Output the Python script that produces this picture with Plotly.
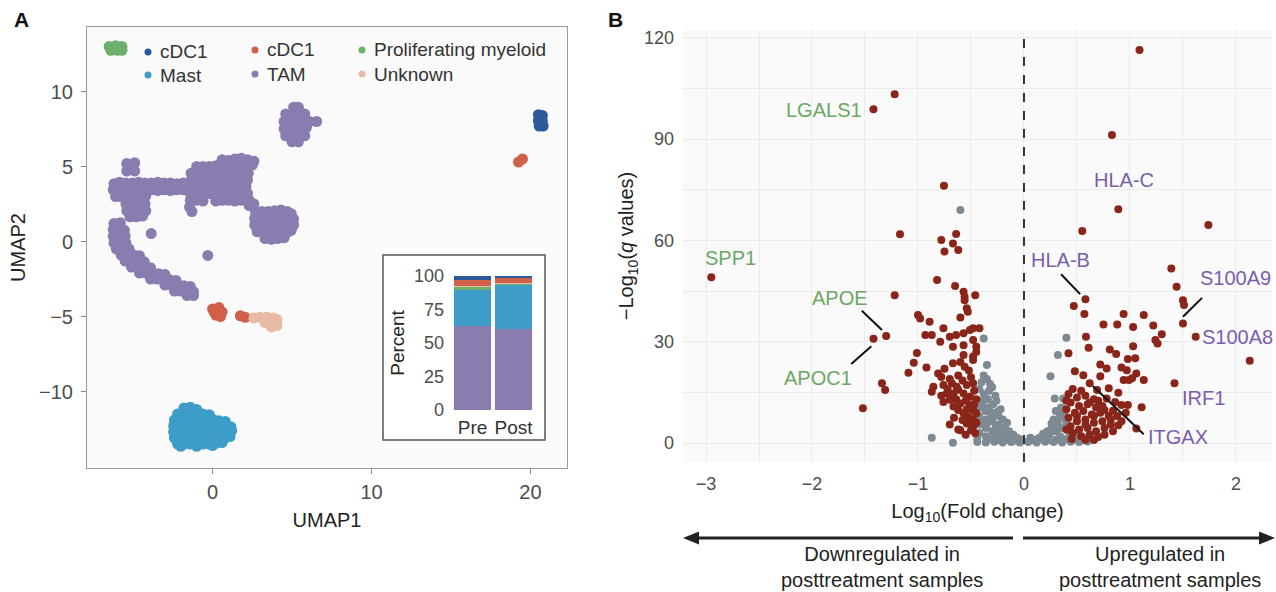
import plotly.graph_objects as go

W, H = 1276, 592
FONT = "Liberation Sans, Arial, Helvetica, sans-serif"

# ---------------- Panel A : UMAP cluster points ----------------
tam_pts = [
    # upper-right blob
    (5.1, 8.95), (5.4, 8.95),
    (4.6, 8.5), (5.0, 8.5), (5.4, 8.5), (5.8, 8.5),
    (4.5, 8.0), (4.9, 8.0), (5.3, 8.0), (5.7, 8.0), (6.1, 8.0), (6.55, 8.0),
    (4.5, 7.5), (4.9, 7.5), (5.3, 7.5), (5.7, 7.5), (5.9, 7.6),
    (4.6, 7.05), (5.0, 7.05), (5.4, 7.05), (5.8, 7.05),
    (5.0, 6.65), (5.4, 6.65),
    # left column
    (-5.4, 5.2), (-4.9, 5.25), (-5.4, 4.7), (-4.9, 4.7),
    # left band
    (-6.2, 3.85), (-5.85, 3.95), (-5.45, 3.9), (-5.05, 3.9), (-4.65, 3.95), (-4.25, 3.9),
    (-3.85, 3.9), (-3.45, 3.95), (-3.05, 3.9), (-2.65, 3.9), (-2.25, 3.85), (-1.85, 3.9),
    (-6.25, 3.45), (-5.85, 3.45), (-5.45, 3.45), (-5.05, 3.45), (-4.65, 3.45), (-4.25, 3.45),
    (-3.85, 3.45), (-3.45, 3.4), (-3.05, 3.45), (-2.65, 3.4), (-2.25, 3.45), (-1.85, 3.45),
    (-6.1, 3.0), (-5.8, 3.0), (-5.4, 3.0), (-5.0, 3.0), (-4.6, 3.0), (-4.2, 3.05),
    # left lower lobe
    (-5.45, 2.5), (-5.05, 2.5), (-4.65, 2.5), (-4.25, 2.5),
    (-5.4, 2.05), (-5.0, 2.05), (-4.6, 2.05), (-4.2, 2.05),
    (-5.2, 1.65), (-4.8, 1.65), (-4.4, 1.7),
    # middle mass
    (0.6, 5.45), (1.0, 5.4), (1.4, 5.5), (1.8, 5.55), (2.2, 5.45), (2.6, 5.35),
    (-1.0, 5.0), (-0.6, 5.0), (-0.2, 5.0), (0.2, 5.05), (0.6, 5.0), (1.0, 5.0), (1.4, 5.0),
    (1.8, 5.0), (2.2, 5.0), (2.5, 5.1),
    (-1.35, 4.55), (-0.95, 4.55), (-0.55, 4.55), (-0.15, 4.55), (0.25, 4.55), (0.65, 4.55),
    (1.05, 4.55), (1.45, 4.55), (1.85, 4.55), (2.25, 4.55),
    (-1.35, 4.1), (-0.95, 4.1), (-0.55, 4.1), (-0.15, 4.1), (0.25, 4.1), (0.65, 4.1),
    (1.05, 4.1), (1.45, 4.1), (1.85, 4.1), (2.2, 4.1),
    (-1.4, 3.65), (-1.0, 3.65), (-0.6, 3.65), (-0.2, 3.65), (0.2, 3.65), (0.6, 3.65),
    (1.0, 3.65), (1.4, 3.65), (1.8, 3.65), (2.1, 3.65),
    (-1.4, 3.2), (-1.0, 3.2), (-0.6, 3.2), (-0.2, 3.2), (0.2, 3.2), (0.6, 3.2),
    (1.0, 3.2), (1.4, 3.2), (1.8, 3.2), (2.2, 3.2),
    (-1.4, 2.75), (-1.0, 2.75), (-0.6, 2.7), (0.2, 2.7), (0.6, 2.75),
    (1.0, 2.75), (1.4, 2.7), (1.8, 2.75), (2.3, 2.75),
    (-1.45, 2.3), (-1.3, 2.0), (2.3, 2.4), (2.6, 2.5),
    # right lower blob
    (2.7, 2.0), (3.1, 2.0), (3.5, 2.0), (3.9, 2.05), (4.3, 2.1), (4.7, 2.0), (4.95, 1.85),
    (2.65, 1.55), (3.05, 1.55), (3.45, 1.55), (3.85, 1.55), (4.25, 1.55), (4.65, 1.55), (5.1, 1.5),
    (2.65, 1.1), (3.05, 1.1), (3.45, 1.1), (3.85, 1.1), (4.25, 1.1), (4.65, 1.1), (5.1, 1.1),
    (2.8, 0.65), (3.15, 0.65), (3.55, 0.65), (3.95, 0.65), (4.35, 0.65), (4.75, 0.65), (4.95, 0.75),
    (3.3, 0.2), (3.7, 0.15), (4.1, 0.2), (4.5, 0.25),
    # lower-left arc
    (-6.2, 1.2), (-5.8, 1.25),
    (-6.25, 0.8), (-5.85, 0.8), (-5.55, 0.75),
    (-6.25, 0.35), (-5.85, 0.35), (-5.5, 0.35),
    (-6.2, -0.1), (-5.8, -0.1), (-5.45, -0.1),
    (-6.05, -0.5), (-5.65, -0.5), (-5.25, -0.5),
    (-5.75, -0.9), (-5.35, -0.9), (-4.95, -0.9), (-4.6, -0.95),
    (-5.5, -1.3), (-5.1, -1.3), (-4.7, -1.3), (-4.3, -1.35),
    (-5.1, -1.7), (-4.7, -1.7), (-4.3, -1.7), (-3.9, -1.75),
    (-4.6, -2.1), (-4.2, -2.1), (-3.8, -2.1), (-3.4, -2.15), (-3.0, -2.2),
    (-3.9, -2.5), (-3.5, -2.5), (-3.1, -2.5), (-2.7, -2.55), (-2.3, -2.6),
    (-3.0, -2.9), (-2.6, -2.9), (-2.2, -2.9), (-1.8, -2.95), (-1.4, -3.0),
    (-2.4, -3.3), (-2.0, -3.3), (-1.6, -3.3), (-1.2, -3.35),
    (-1.6, -3.6), (-1.2, -3.6),
    # isolated cells
    (-3.86, 0.53), (-0.3, -0.93),
]
mast_pts = [
    (-1.8, -11.1), (-1.4, -11.05), (-1.0, -11.2),
    (-2.2, -11.5), (-1.8, -11.5), (-1.4, -11.5), (-1.0, -11.5), (-0.6, -11.5), (-0.2, -11.55),
    (-2.4, -11.9), (-2.0, -11.9), (-1.6, -11.9), (-1.2, -11.9), (-0.8, -11.9), (-0.4, -11.9),
    (0.0, -11.85), (0.4, -11.95), (0.8, -12.0),
    (-2.45, -12.3), (-2.05, -12.3), (-1.65, -12.3), (-1.25, -12.3), (-0.85, -12.3), (-0.45, -12.3),
    (-0.05, -12.3), (0.35, -12.3), (0.75, -12.3), (1.15, -12.35),
    (-2.45, -12.7), (-2.05, -12.7), (-1.65, -12.7), (-1.25, -12.7), (-0.85, -12.7), (-0.45, -12.7),
    (-0.05, -12.7), (0.35, -12.7), (0.75, -12.7), (1.2, -12.6),
    (-2.4, -13.1), (-2.0, -13.1), (-1.6, -13.1), (-1.2, -13.1), (-0.8, -13.1), (-0.4, -13.1),
    (0.0, -13.1), (0.4, -13.1), (0.8, -13.1), (1.1, -13.0),
    (-2.2, -13.5), (-1.8, -13.5), (-1.4, -13.5), (-1.0, -13.5), (-0.6, -13.5), (-0.2, -13.5),
    (0.2, -13.45), (0.6, -13.4),
    (-2.0, -13.65), (-1.0, -13.65), (0.0, -13.6),
]
cdc1_red_pts = [
    (0.0, -4.5), (0.4, -4.4), (0.6, -4.7), (0.2, -4.9), (0.5, -5.0), (0.1, -4.7),
    (1.75, -4.95), (2.05, -5.05),
    (19.25, 5.3), (19.5, 5.5),
]
unknown_pts = [
    (2.6, -5.1), (3.0, -5.05), (3.4, -5.05), (3.8, -5.1), (4.05, -5.2),
    (3.3, -5.4), (3.7, -5.45), (4.05, -5.6), (3.7, -5.7),
]
cdc1_blue_pts = [
    (20.5, 8.45), (20.75, 8.4), (20.5, 8.05), (20.75, 8.05), (20.55, 7.7), (20.8, 7.7),
]
prolif_pts = [
    (-6.5, 13.0), (-6.1, 13.05), (-5.7, 13.0), (-6.4, 12.75), (-6.0, 12.75), (-5.7, 12.75),
]

# inset: percent of cells per group
inset_groups = ["Pre", "Post"]
pct_tam = [62.5, 60.5]
pct_mast = [27.0, 32.5]
pct_prolif = [2.5, 1.5]
pct_unknown = [0.5, 0.5]
pct_cdc1_red = [4.5, 3.5]
pct_cdc1_blue = [3.0, 1.5]

legend_names = ["cDC1", "Mast", "cDC1", "TAM", "Proliferating myeloid", "Unknown"]

# ---------------- Panel B : volcano points ----------------
sig_pts = [
    (-1.22, 103.3), (-1.42, 98.8), (-0.755, 76.2), (-1.17, 61.8), (-0.64, 61.9), (-0.78, 60.1),
    (-0.67, 59.1), (-0.75, 56.7), (-0.62, 57.2), (-2.95, 49.1), (-0.82, 48.3), (-0.65, 46.5),
    (-1.22, 43.8), (-0.57, 44.8), (-0.56, 43.3), (-0.56, 42.3), (-0.46, 43.8), (-0.54, 39.9),
    (-0.53, 38.9), (-0.60, 37.2), (-1.0, 37.9), (-0.98, 36.9), (-0.89, 35.9), (-1.30, 31.7),
    (-1.42, 30.9), (-0.76, 34.0), (-0.93, 32.0), (-0.87, 32.0), (-0.70, 31.5), (-0.64, 32.0),
    (-0.57, 32.5), (-0.51, 33.5), (-0.48, 34.0), (-0.42, 34.0), (-0.79, 30.0), (-0.67, 28.5),
    (-0.57, 29.0), (-0.48, 30.5), (-0.45, 28.5), (-0.57, 26.1), (-0.48, 25.6), (-0.45, 27.0),
    (-0.48, 24.6), (-0.67, 23.6), (-0.56, 22.6), (-1.01, 26.7), (-1.04, 23.8), (-0.92, 22.4),
    (-1.09, 20.8), (-0.81, 20.6), (-0.78, 19.6), (-1.34, 17.7), (-1.31, 15.7), (-1.52, 10.3),
    (-0.855, 16.7), (-0.76, 17.2), (-0.87, 15.2), (-0.76, 12.2), (-0.68, 17.7), (-0.635, 16.7),
    (-0.54, 17.2), (-0.48, 17.7), (-0.665, 14.7), (-0.57, 14.7), (-0.51, 13.7), (-0.60, 11.7),
    (-0.51, 11.3), (-0.48, 9.8), (-0.57, 8.8), (-0.48, 6.8), (-0.48, 4.8), (-0.46, 2.9),
    (-0.60, 3.8), (-0.665, 10.8), (-0.73, 14.7), (-0.54, 5.8), (-0.45, 8.8),
    (-0.62, 20.0), (-0.70, 19.0), (-0.58, 18.5), (-0.50, 19.5), (-0.64, 13.0), (-0.55, 12.5),
    (-0.70, 12.8), (-0.62, 9.8), (-0.54, 10.0), (-0.58, 6.8), (-0.52, 7.8), (-0.50, 3.8),
    (-0.55, 2.5), (-0.66, 7.5), (-0.72, 16.0), (-0.78, 14.0), (-0.47, 15.5), (-0.52, 21.5),
    (-0.60, 24.0), (-0.75, 22.0),
    (-0.62, 4.0), (-0.70, 5.5), (-0.45, 6.0), (-0.47, 11.5), (-0.45, 13.0), (-0.62, 15.8),
    (1.09, 116.4), (0.83, 91.2), (0.89, 69.2), (0.55, 62.8), (1.74, 64.6), (1.39, 51.7),
    (1.44, 46.3), (0.58, 42.6), (0.47, 40.6), (1.50, 42.3), (1.51, 40.9), (0.57, 38.2),
    (0.94, 38.2), (1.13, 37.9), (0.75, 35.1), (0.88, 35.1), (1.03, 34.4), (1.22, 34.8),
    (1.30, 32.2), (1.50, 35.4), (1.62, 31.5), (2.13, 24.4), (1.24, 30.5), (1.26, 29.5),
    (0.585, 31.5), (0.61, 28.2), (0.42, 26.6), (0.81, 27.7), (0.87, 26.4), (1.03, 28.7),
    (0.98, 24.9), (1.05, 25.1), (0.48, 21.3), (0.56, 20.1), (0.72, 23.3), (0.78, 22.1),
    (0.72, 19.8), (0.92, 22.4), (0.97, 21.6), (1.02, 19.2), (1.06, 20.6), (1.13, 18.7),
    (0.94, 18.7), (0.99, 18.7), (1.42, 17.7), (0.80, 16.2), (0.89, 14.9), (0.69, 15.7),
    (0.62, 17.7), (0.78, 13.2), (0.86, 12.2), (0.92, 11.3), (0.98, 11.3), (1.11, 10.6),
    (0.89, 5.3), (1.06, 4.3),
    (0.42, 14.5), (0.50, 13.5), (0.58, 14.0), (0.66, 13.0), (0.44, 12.0), (0.52, 11.0),
    (0.60, 11.5), (0.68, 10.5), (0.74, 11.0), (0.40, 10.0), (0.48, 9.0), (0.56, 9.5),
    (0.64, 8.5), (0.72, 9.0), (0.80, 8.0), (0.42, 7.5), (0.50, 6.5), (0.58, 7.0),
    (0.66, 6.0), (0.74, 6.5), (0.82, 7.0), (0.44, 5.0), (0.52, 4.0), (0.60, 4.5),
    (0.68, 3.5), (0.76, 4.5), (0.46, 3.0), (0.54, 2.0), (0.62, 2.5), (0.70, 1.8),
    (0.84, 9.6), (0.88, 8.0),
    (0.45, 1.2), (0.58, 1.0), (0.66, 0.9), (0.76, 2.5), (0.84, 3.5), (0.40, 4.0),
    (0.40, 12.5), (0.46, 16.0), (0.54, 15.5), (0.62, 12.0), (0.70, 12.5), (0.76, 9.8),
    (0.82, 5.5), (0.92, 6.5), (0.96, 9.0), (0.50, 8.0), (0.58, 5.5), (0.66, 8.0),
]
ns_pts = [
    (-0.42, 16.0), (-0.38, 14.5), (-0.33, 15.5), (-0.40, 12.5), (-0.34, 13.0), (-0.29, 11.5),
    (-0.42, 10.5), (-0.36, 9.5), (-0.30, 9.0), (-0.24, 8.0), (-0.42, 8.0), (-0.36, 7.0),
    (-0.30, 6.5), (-0.24, 5.5), (-0.18, 4.5), (-0.42, 5.5), (-0.36, 4.5), (-0.30, 3.5),
    (-0.24, 2.8), (-0.18, 2.0), (-0.12, 1.5), (-0.42, 3.0), (-0.36, 2.0), (-0.30, 1.2),
    (-0.38, 20.0), (-0.32, 17.5), (-0.27, 14.0),
    (-0.40, 18.0), (-0.35, 19.0), (-0.30, 16.5), (-0.26, 12.5), (-0.22, 10.0), (-0.20, 7.0),
    (-0.16, 6.0), (-0.14, 3.5), (-0.10, 2.5), (-0.06, 1.5), (-0.02, 1.0), (-0.44, 1.2),
    (-0.40, 6.5), (-0.33, 10.5), (-0.27, 4.5), (-0.21, 3.5), (-0.15, 0.9), (-0.39, 11.3),
    (-0.31, 7.8), (-0.25, 9.3), (-0.35, 5.8), (-0.28, 2.2),
    (-0.44, 0.3), (-0.36, 0.2), (-0.28, 0.4), (-0.20, 0.2), (-0.12, 0.3), (-0.04, 0.2),
    (0.04, 0.3), (0.12, 0.2), (0.20, 0.4), (0.28, 0.3), (0.36, 0.2), (0.44, 0.4),
    (0.52, 0.3), (0.60, 0.5), (-0.24, 0.9), (-0.08, 0.8), (0.08, 0.9), (0.16, 1.2), (0.30, 1.0),
    (0.24, 2.5), (0.30, 3.5), (0.34, 2.0), (0.38, 4.5), (0.40, 6.0), (0.32, 5.5),
    (0.26, 4.5), (0.44, 2.5), (0.48, 1.5), (0.56, 1.5), (0.36, 7.5), (0.28, 7.0),
    (0.20, 1.8), (0.62, 1.0), (0.25, 19.8), (0.32, 26.1), (0.29, 13.2), (0.37, 13.2),
    (0.40, 31.2), (0.30, 9.5), (0.35, 10.5),
    (0.10, 0.9), (0.14, 1.5), (0.18, 2.8), (0.22, 3.5), (0.26, 5.8), (0.30, 6.5),
    (0.34, 8.5), (0.38, 9.0), (0.42, 3.5), (0.46, 0.9), (0.50, 2.2), (0.54, 0.8),
    (0.40, 1.2), (0.33, 4.3), (0.22, 0.8), (0.06, 1.6),
    (-0.35, 23.1), (-0.38, 31.0), (-0.87, 1.6), (-0.67, 0.1), (-0.60, 69.0),
]

gene_labels = ["LGALS1", "SPP1", "APOE", "APOC1", "HLA-C", "HLA-B", "S100A9", "S100A8", "IRF1", "ITGAX"]
gene_label_x = [-1.89, -2.77, -1.74, -1.94, 0.94, 0.34, 2.0, 2.01, 1.69, 1.45]
gene_label_y = [98.6, 54.8, 42.9, 19.2, 77.9, 54.2, 48.9, 31.4, 13.3, 1.8]
gene_down = [True, True, True, True, False, False, False, False, False, False]
leader_lines = [  # (x0, y0, x1, y1) in data units
    (-1.53, 39.2, -1.34, 33.5),
    (-1.63, 23.4, -1.44, 28.7),
    (0.35, 50.0, 0.53, 44.1),
    (1.68, 43.0, 1.50, 37.4),
    (0.65, 16.9, 1.13, 2.6),
]

# ---------------- colours ----------------
C_CDC1B = "#2b5b9b"
C_MAST = "#3d9dc8"
C_CDC1R = "#d0604a"
C_TAM = "#8b7cb0"
C_PROLIF = "#6cb06b"
C_UNK = "#e8bba6"
C_SIG = "#8a2519"
C_NS = "#7e8a93"
C_GREEN = "#6aa962"
C_PURPLE = "#7b5fab"


def px_x(p):
    return p / W


def px_y(p):
    return 1 - p / H


fig = go.Figure()


def add_cluster(pts, color):
    fig.add_trace(go.Scatter(
        x=[p[0] for p in pts], y=[p[1] for p in pts], mode="markers",
        marker=dict(size=11, color=color, line=dict(width=0)),
        xaxis="x", yaxis="y", showlegend=False, hoverinfo="skip"))


add_cluster(tam_pts, C_TAM)
add_cluster(mast_pts, C_MAST)
add_cluster(cdc1_red_pts, C_CDC1R)
add_cluster(unknown_pts, C_UNK)
add_cluster(cdc1_blue_pts, C_CDC1B)
add_cluster(prolif_pts, C_PROLIF)

for vals, col in [(pct_tam, C_TAM), (pct_mast, C_MAST), (pct_prolif, C_PROLIF),
                  (pct_unknown, C_UNK), (pct_cdc1_red, C_CDC1R), (pct_cdc1_blue, C_CDC1B)]:
    fig.add_trace(go.Bar(x=inset_groups, y=vals, marker=dict(color=col, line=dict(width=0)),
                         xaxis="x3", yaxis="y3", showlegend=False, hoverinfo="skip"))

fig.add_trace(go.Scatter(
    x=[p[0] for p in ns_pts], y=[p[1] for p in ns_pts], mode="markers",
    marker=dict(size=8, color=C_NS, line=dict(width=0)),
    xaxis="x2", yaxis="y2", showlegend=False, hoverinfo="skip"))
fig.add_trace(go.Scatter(
    x=[p[0] for p in sig_pts], y=[p[1] for p in sig_pts], mode="markers",
    marker=dict(size=8, color=C_SIG, line=dict(width=0)),
    xaxis="x2", yaxis="y2", showlegend=False, hoverinfo="skip"))

tick_font_a = dict(family=FONT, size=20, color="#4d4d4d")
tick_font = dict(family=FONT, size=18, color="#4d4d4d")
title_font = dict(family=FONT, size=20, color="#222222")
grid_c = "#ebebeb"

fig.update_layout(
    template="none",
    width=W, height=H, margin=dict(l=0, r=0, t=0, b=0, pad=0), autosize=False,
    paper_bgcolor="white", plot_bgcolor="#fafafa",
    font=dict(family=FONT, color="#333"),
    barmode="stack", bargap=0.1, showlegend=False,
    xaxis=dict(domain=[px_x(87), px_x(567)], range=[-7.9, 22.3], tickvals=[0, 10, 20],
               ticks="outside", ticklen=5, tickcolor="#888", showline=True, mirror=True,
               linecolor="#9a9a9a", linewidth=1, showgrid=False, zeroline=False,
               automargin=False, ticklabelstandoff=1,
               tickfont=tick_font_a, title=dict(text="UMAP1", font=title_font, standoff=10),
               anchor="y"),
    yaxis=dict(domain=[px_y(468), px_y(27)], range=[-15.1, 14.3], tickvals=[-10, -5, 0, 5, 10],
               ticks="outside", ticklen=5, tickcolor="#888", showline=True, mirror=True,
               linecolor="#9a9a9a", linewidth=1, showgrid=False, zeroline=False,
               automargin=False, ticklabelstandoff=4,
               tickfont=tick_font_a, title=dict(text="UMAP2", font=title_font, standoff=8),
               anchor="x"),
    xaxis2=dict(domain=[px_x(683), px_x(1272)], range=[-3.217, 2.34], tick0=0, dtick=1,
                showgrid=True, gridcolor=grid_c, gridwidth=1, zeroline=False, ticks="",
                showline=False, automargin=False, ticklabelstandoff=9,
                minor=dict(dtick=0.5, tick0=0, showgrid=True, gridcolor=grid_c, ticks=""),
                tickfont=tick_font, anchor="y2",
                title=dict(text="Log<sub>10</sub>(Fold change)", font=title_font, standoff=10)),
    yaxis2=dict(domain=[px_y(462), px_y(30)], range=[-5.6, 122.3], tick0=0, dtick=30,
                showgrid=True, gridcolor=grid_c, gridwidth=1, zeroline=False, ticks="",
                showline=False, automargin=False, ticklabelstandoff=8,
                minor=dict(dtick=15, tick0=0, showgrid=True, gridcolor=grid_c, ticks=""),
                tickfont=tick_font, anchor="x2",
                title=dict(text="\u2212Log<sub>10</sub>(<i>q</i> values)", font=title_font, standoff=4)),
    xaxis3=dict(domain=[px_x(452), px_x(534)], anchor="y3", showgrid=False, zeroline=False,
                automargin=False, ticklabelstandoff=4,
                ticks="", tickfont=dict(family=FONT, size=19, color="#333"), showline=False),
    yaxis3=dict(domain=[px_y(410), px_y(276)], range=[0, 100], anchor="x3", showgrid=False,
                zeroline=False, ticks="", tickvals=[0, 25, 50, 75, 100], automargin=False,
                ticklabelstandoff=7,
                tickfont=dict(family=FONT, size=18, color="#4d4d4d"), showline=False,
                title=dict(text="Percent", font=dict(family=FONT, size=19, color="#222"), standoff=4)),
)

shapes = []
# inset frame (white box)
shapes.append(dict(type="rect", xref="paper", yref="paper", x0=px_x(383), x1=px_x(545),
                   y0=px_y(440), y1=px_y(255), fillcolor="white",
                   line=dict(color="#555", width=1.5), layer="below"))
# zero line in volcano
shapes.append(dict(type="line", xref="x2", yref="y2 domain", x0=0, x1=0, y0=0, y1=1,
                   line=dict(color="#333", width=2, dash="dash")))
for (x0, y0, x1, y1) in leader_lines:
    shapes.append(dict(type="line", xref="x2", yref="y2", x0=x0, y0=y0, x1=x1, y1=y1,
                       line=dict(color="#111", width=2)))
# legend dots (panel A)
leg_cols = [C_CDC1B, C_MAST, C_CDC1R, C_TAM, C_PROLIF, C_UNK]
leg_pos = [(148, 52), (148, 75), (255, 50), (255, 74), (362, 50), (362, 74)]
for col, (cx, cy) in zip(leg_cols, leg_pos):
    r = 3.5
    shapes.append(dict(type="circle", xref="paper", yref="paper",
                       x0=px_x(cx - r), x1=px_x(cx + r), y0=px_y(cy + r), y1=px_y(cy - r),
                       fillcolor=col, line=dict(width=0)))
# direction arrows below panel B
ay = 538
shapes.append(dict(type="line", xref="paper", yref="paper", x0=px_x(692), x1=px_x(1013),
                   y0=px_y(ay), y1=px_y(ay), line=dict(color="#222", width=3)))
shapes.append(dict(type="line", xref="paper", yref="paper", x0=px_x(1023), x1=px_x(1266),
                   y0=px_y(ay), y1=px_y(ay), line=dict(color="#222", width=3)))
shapes.append(dict(type="path", xref="paper", yref="paper",
                   path=f"M {px_x(683)} {px_y(ay)} L {px_x(699)} {px_y(ay - 6.5)} L {px_x(699)} {px_y(ay + 6.5)} Z",
                   fillcolor="#222", line=dict(width=0)))
shapes.append(dict(type="path", xref="paper", yref="paper",
                   path=f"M {px_x(1275)} {px_y(ay)} L {px_x(1259)} {px_y(ay - 6.5)} L {px_x(1259)} {px_y(ay + 6.5)} Z",
                   fillcolor="#222", line=dict(width=0)))
fig.update_layout(shapes=shapes)

ann = []
for name, (cx, cy) in zip(legend_names, leg_pos):
    ann.append(dict(xref="paper", yref="paper", x=px_x(cx + 10), y=px_y(cy), text=name,
                    showarrow=False, xanchor="left", yanchor="middle",
                    font=dict(family=FONT, size=19, color="#333")))
for t, x, y, d in zip(gene_labels, gene_label_x, gene_label_y, gene_down):
    ann.append(dict(xref="x2", yref="y2", x=x, y=y, text=t, showarrow=False,
                    xanchor="center", yanchor="middle",
                    font=dict(family=FONT, size=20, color=C_GREEN if d else C_PURPLE)))
# panel letters
ann.append(dict(xref="paper", yref="paper", x=px_x(12), y=px_y(20), text="<b>A</b>",
                showarrow=False, xanchor="left", yanchor="middle",
                font=dict(family=FONT, size=21, color="#111")))
ann.append(dict(xref="paper", yref="paper", x=px_x(606), y=px_y(20), text="<b>B</b>",
                showarrow=False, xanchor="left", yanchor="middle",
                font=dict(family=FONT, size=21, color="#111")))
ann.append(dict(xref="paper", yref="paper", x=px_x(882), y=px_y(567),
                text="Downregulated in<br>posttreatment samples", showarrow=False,
                xanchor="center", yanchor="middle", align="center",
                font=dict(family=FONT, size=20, color="#222")))
ann.append(dict(xref="paper", yref="paper", x=px_x(1160), y=px_y(567),
                text="Upregulated in<br>posttreatment samples", showarrow=False,
                xanchor="center", yanchor="middle", align="center",
                font=dict(family=FONT, size=20, color="#222")))
fig.update_layout(annotations=ann)

fig.write_html(
    "out.html",
    config={"displayModeBar": False},
    post_script=(
        "document.documentElement.style.overflow='hidden';"
        "document.body.style.margin='0';document.body.style.padding='0';"
        "document.body.style.overflow='hidden';"
        "var gd=document.getElementById('{plot_id}');"
        "gd.style.position='fixed';gd.style.left='0px';gd.style.top='0px';"
    ),
)
